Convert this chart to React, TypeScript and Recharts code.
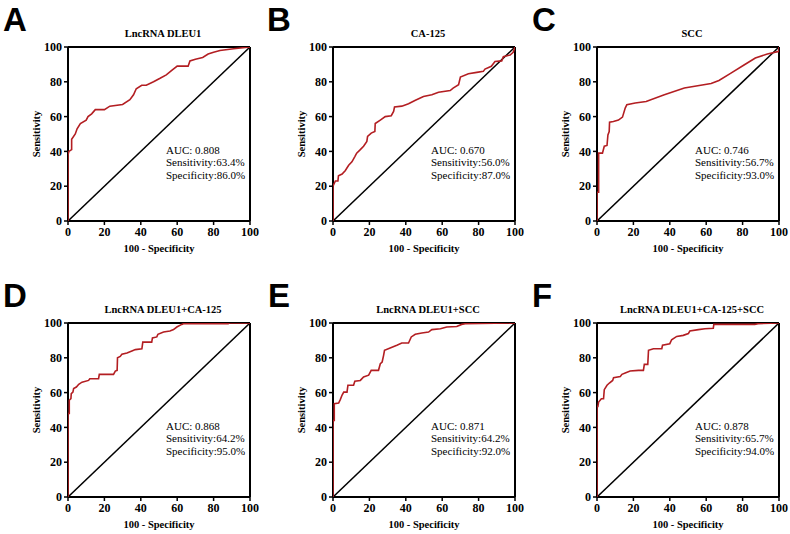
import React from "react";
import { LineChart, Line, XAxis, YAxis, ReferenceLine } from "recharts";

type Pt = { x: number; y: number };

const TICKS = [0, 20, 40, 60, 80, 100];
const DIAGONAL: Pt[] = [
  { x: 0, y: 0 },
  { x: 100, y: 100 },
];

// ROC curves as (100 - specificity, sensitivity)
const dleu1: Pt[] = [
  { x: 0, y: 0 }, { x: 0, y: 38 }, { x: 0.5, y: 40 }, { x: 2, y: 41 }, { x: 2, y: 47 },
  { x: 4, y: 50 }, { x: 5, y: 53 }, { x: 6.8, y: 56 }, { x: 10, y: 58 }, { x: 11, y: 60 },
  { x: 13, y: 61.6 }, { x: 15, y: 64 }, { x: 20, y: 64 }, { x: 23, y: 66 }, { x: 30, y: 67 },
  { x: 34, y: 69.7 }, { x: 36, y: 72.5 }, { x: 37.5, y: 76 }, { x: 40.5, y: 78 }, { x: 43, y: 78 },
  { x: 47, y: 80 }, { x: 50.6, y: 82 }, { x: 54, y: 84 }, { x: 57, y: 86.5 }, { x: 60, y: 89 },
  { x: 66, y: 89 }, { x: 67, y: 92 }, { x: 70, y: 93 }, { x: 74, y: 94 }, { x: 77, y: 96 },
  { x: 80, y: 97 }, { x: 83.5, y: 98 }, { x: 91, y: 99 }, { x: 100, y: 100 },
];

const ca125: Pt[] = [
  { x: 0, y: 0 }, { x: 0, y: 20 }, { x: 1.3, y: 23 }, { x: 2.7, y: 23 }, { x: 3, y: 26 },
  { x: 5, y: 27 }, { x: 6.8, y: 29 }, { x: 8.6, y: 32 }, { x: 10.4, y: 34 }, { x: 12, y: 37 },
  { x: 13, y: 39 }, { x: 15, y: 41 }, { x: 16.8, y: 43 }, { x: 18.6, y: 45.7 }, { x: 19, y: 48.6 },
  { x: 21, y: 50.5 }, { x: 23, y: 51.4 }, { x: 23.2, y: 56 }, { x: 26, y: 58 }, { x: 28.7, y: 60 },
  { x: 32, y: 60.5 }, { x: 33.3, y: 63 }, { x: 33.8, y: 65.5 }, { x: 37.8, y: 66 }, { x: 41.5, y: 67.4 },
  { x: 45, y: 69.3 }, { x: 49.7, y: 71.6 }, { x: 54.3, y: 72.6 }, { x: 58, y: 74 }, { x: 64.4, y: 75 },
  { x: 66, y: 76.4 }, { x: 69, y: 78.3 }, { x: 70, y: 82.7 }, { x: 74.4, y: 84.6 }, { x: 79, y: 85.4 },
  { x: 82.6, y: 86 }, { x: 83.5, y: 87.3 }, { x: 87, y: 88.9 }, { x: 89, y: 91.7 }, { x: 92.7, y: 92 },
  { x: 93.6, y: 94.4 }, { x: 97.3, y: 95.4 }, { x: 99, y: 97 }, { x: 100, y: 100 },
];

const scc: Pt[] = [
  { x: 0, y: 0 }, { x: 0, y: 16.5 }, { x: 0.9, y: 16.5 }, { x: 0.9, y: 39 }, { x: 3, y: 39 },
  { x: 4, y: 43 }, { x: 5.5, y: 43.4 }, { x: 6, y: 49.5 }, { x: 6.7, y: 51.4 }, { x: 6.9, y: 56.8 },
  { x: 9, y: 57.2 }, { x: 11.8, y: 58 }, { x: 14, y: 59.7 }, { x: 15.5, y: 64.9 }, { x: 16.4, y: 66.8 },
  { x: 21, y: 67.8 }, { x: 27, y: 68.7 }, { x: 37, y: 72.5 }, { x: 48, y: 76.4 }, { x: 62.7, y: 79 },
  { x: 67, y: 80.8 }, { x: 73.6, y: 85 }, { x: 81, y: 89.8 }, { x: 87, y: 93.7 }, { x: 93.6, y: 96 },
  { x: 100, y: 97.5 }, { x: 100, y: 100 },
];

const dleu1Ca125: Pt[] = [
  { x: 0, y: 0 }, { x: 0, y: 48 }, { x: 0.7, y: 48 }, { x: 0.7, y: 55.6 }, { x: 1.6, y: 56.5 },
  { x: 1.8, y: 59.4 }, { x: 2.7, y: 60.3 }, { x: 3.1, y: 62.3 }, { x: 4.6, y: 63.2 }, { x: 5.9, y: 64.8 },
  { x: 7.7, y: 66 }, { x: 11.3, y: 67 }, { x: 12, y: 68 }, { x: 16.8, y: 68 }, { x: 17.2, y: 70.5 },
  { x: 25, y: 70.5 }, { x: 26, y: 72.4 }, { x: 27, y: 72.8 }, { x: 27.2, y: 80 }, { x: 28.7, y: 80.8 },
  { x: 29.6, y: 82 }, { x: 32.4, y: 82.8 }, { x: 35.1, y: 83.9 }, { x: 37, y: 84.7 }, { x: 40.6, y: 85.2 },
  { x: 41.1, y: 89 }, { x: 46, y: 89 }, { x: 46.4, y: 91.4 }, { x: 48.8, y: 92 }, { x: 49.4, y: 93.5 },
  { x: 52.5, y: 94.8 }, { x: 56, y: 95.4 }, { x: 58, y: 96.2 }, { x: 59.8, y: 97.7 }, { x: 62.5, y: 99.2 },
  { x: 63.4, y: 99.6 }, { x: 88, y: 99.6 }, { x: 88.7, y: 100 }, { x: 100, y: 100 },
];

const dleu1Scc: Pt[] = [
  { x: 0, y: 0 }, { x: 0, y: 44 }, { x: 0.7, y: 44 }, { x: 0.7, y: 53.6 }, { x: 3.1, y: 54 },
  { x: 4, y: 56 }, { x: 5, y: 58.6 }, { x: 5.9, y: 60.3 }, { x: 7.7, y: 60.3 }, { x: 8.2, y: 64.2 },
  { x: 11.3, y: 64.2 }, { x: 12, y: 66.5 }, { x: 15, y: 67 }, { x: 16.8, y: 69 }, { x: 19.6, y: 70 },
  { x: 21, y: 72.8 }, { x: 25, y: 72.8 }, { x: 26, y: 76.6 }, { x: 27, y: 77.6 }, { x: 27.8, y: 81.4 },
  { x: 28.3, y: 84.3 }, { x: 31.4, y: 85.6 }, { x: 35.1, y: 87.2 }, { x: 37.8, y: 88.5 }, { x: 41.5, y: 88.5 },
  { x: 43, y: 92 }, { x: 45.2, y: 93.5 }, { x: 48.8, y: 94.3 }, { x: 52.5, y: 94.8 }, { x: 54.3, y: 96.2 },
  { x: 59, y: 96.7 }, { x: 62.5, y: 97.7 }, { x: 68, y: 98 }, { x: 70.7, y: 99.2 }, { x: 72.6, y: 99.6 },
  { x: 100, y: 100 },
];

const dleu1Ca125Scc: Pt[] = [
  { x: 0, y: 0 }, { x: 0, y: 52 }, { x: 0.5, y: 52 }, { x: 0.9, y: 54.6 }, { x: 2.4, y: 56.5 },
  { x: 3.6, y: 56.5 }, { x: 4, y: 61.7 }, { x: 5.5, y: 64.2 }, { x: 6.8, y: 65.5 }, { x: 8.6, y: 67 },
  { x: 9.1, y: 68.6 }, { x: 12.8, y: 69.3 }, { x: 13.7, y: 70.5 }, { x: 15.5, y: 71.3 }, { x: 18.2, y: 72.4 },
  { x: 22.8, y: 72.8 }, { x: 25.5, y: 72.8 }, { x: 26, y: 76.2 }, { x: 27.9, y: 76.2 }, { x: 28.3, y: 84.3 },
  { x: 31, y: 85.2 }, { x: 35.6, y: 85.2 }, { x: 36, y: 87.2 }, { x: 40, y: 88.1 }, { x: 41, y: 90.4 },
  { x: 43.8, y: 92.3 }, { x: 47.4, y: 92.9 }, { x: 50.2, y: 93.9 }, { x: 51, y: 95.4 }, { x: 55.7, y: 96.2 },
  { x: 59.3, y: 96.7 }, { x: 63.9, y: 97 }, { x: 64.2, y: 99.2 }, { x: 86.7, y: 99.2 }, { x: 88.5, y: 99.6 },
  { x: 100, y: 100 },
];

const letters = ["A", "B", "C", "D", "E", "F"];
const titles = [
  "LncRNA DLEU1",
  "CA-125",
  "SCC",
  "LncRNA DLEU1+CA-125",
  "LncRNA DLEU1+SCC",
  "LncRNA DLEU1+CA-125+SCC",
];
const curves = [dleu1, ca125, scc, dleu1Ca125, dleu1Scc, dleu1Ca125Scc];
const aucs = ["0.808", "0.670", "0.746", "0.868", "0.871", "0.878"];
const sensitivities = ["63.4%", "56.0%", "56.7%", "64.2%", "64.2%", "65.7%"];
const specificities = ["86.0%", "87.0%", "93.0%", "95.0%", "92.0%", "94.0%"];

const RED = "#b31e22";
const SERIF = "'Liberation Serif', 'Times New Roman', serif";

// panel boxes: chart origin and plot rectangle in page pixels
const panels = [
  { left: 0, top: 0, pl: 68, pr: 250, pt: 47, pb: 221, lx: 3, ly: 0 },
  { left: 265, top: 0, pl: 333, pr: 515, pt: 47, pb: 221, lx: 267, ly: 0 },
  { left: 525, top: 0, pl: 597, pr: 779, pt: 47, pb: 221, lx: 532, ly: 0 },
  { left: 0, top: 267, pl: 68, pr: 250, pt: 323, pb: 497, lx: 3, ly: 276 },
  { left: 265, top: 267, pl: 333, pr: 515, pt: 323, pb: 497, lx: 268, ly: 276 },
  { left: 525, top: 267, pl: 597, pr: 779, pt: 323, pb: 497, lx: 532, ly: 276 },
];

const CH_W = 265;
const CH_H = 267;

function Panel({ i }: { i: number }) {
  const p = panels[i];
  const plotW = p.pr - p.pl;
  const plotH = p.pb - p.pt;
  const tick = { fill: "#000", fontSize: 12, fontWeight: 700, fontFamily: SERIF };

  return (
    <>
      <div style={{ position: "absolute", left: p.lx, top: p.ly, fontFamily: "'Liberation Sans', Arial, sans-serif", fontWeight: 700, fontSize: 33, lineHeight: "40px" }}>
        {letters[i]}
      </div>
      <div style={{ position: "absolute", left: p.pl, width: plotW + 8, top: p.pt - 19, textAlign: "center", fontFamily: SERIF, fontWeight: 700, fontSize: 10.5, lineHeight: "12px" }}>
        {titles[i]}
      </div>
      <div style={{ position: "absolute", left: p.left, top: p.top }}>
        <LineChart
          width={CH_W}
          height={CH_H}
          margin={{ top: p.pt - p.top, right: CH_W - (p.pr - p.left), bottom: 0, left: 0 }}
        >
          <XAxis
            type="number"
            dataKey="x"
            domain={[0, 100]}
            ticks={TICKS}
            height={CH_H - (p.pb - p.top)}
            tick={tick}
            tickSize={4}
            tickMargin={2}
            axisLine={{ stroke: "#000", strokeWidth: 2 }}
            tickLine={{ stroke: "#000", strokeWidth: 1.5 }}
            allowDataOverflow
          />
          <YAxis
            type="number"
            dataKey="y"
            domain={[0, 100]}
            ticks={TICKS}
            width={p.pl - p.left}
            tick={tick}
            tickSize={4}
            tickMargin={2}
            axisLine={{ stroke: "#000", strokeWidth: 2 }}
            tickLine={{ stroke: "#000", strokeWidth: 1.5 }}
            allowDataOverflow
          />
          <ReferenceLine y={100} stroke="#000" strokeWidth={2} ifOverflow="visible" />
          <ReferenceLine x={100} stroke="#000" strokeWidth={2} ifOverflow="visible" />
          <Line data={DIAGONAL} dataKey="y" stroke="#000" strokeWidth={1.5} dot={false} isAnimationActive={false} />
          <Line
            data={curves[i]}
            dataKey="y"
            stroke={RED}
            strokeWidth={1.6}
            dot={false}
            isAnimationActive={false}
            {...({ zIndex: 1000 } as any)}
          />
        </LineChart>
      </div>
      <div style={{ position: "absolute", left: p.pl + 98, top: p.pt + 97, fontFamily: SERIF, fontSize: 11, lineHeight: "12.4px", whiteSpace: "nowrap" }}>
        <div>AUC: {aucs[i]}</div>
        <div>Sensitivity:{sensitivities[i]}</div>
        <div>Specificity:{specificities[i]}</div>
      </div>
      <div style={{ position: "absolute", left: p.pl, width: plotW, top: p.pb + 22, textAlign: "center", fontFamily: SERIF, fontWeight: 700, fontSize: 10.5, lineHeight: "12px" }}>
        100 - Specificity
      </div>
      <div
        style={{
          position: "absolute",
          left: p.pl - 31 - 40,
          width: 80,
          top: p.pt + plotH / 2 - 6,
          textAlign: "center",
          transform: "rotate(-90deg)",
          fontFamily: SERIF,
          fontWeight: 700,
          fontSize: 10.5,
          lineHeight: "12px",
        }}
      >
        Sensitivity
      </div>
    </>
  );
}

export default function App() {
  return (
    <div style={{ position: "absolute", left: 0, top: 0, width: 790, height: 534, background: "#fff", color: "#000", overflow: "hidden" }}>
      {panels.map((_, i) => (
        <Panel key={i} i={i} />
      ))}
    </div>
  );
}
